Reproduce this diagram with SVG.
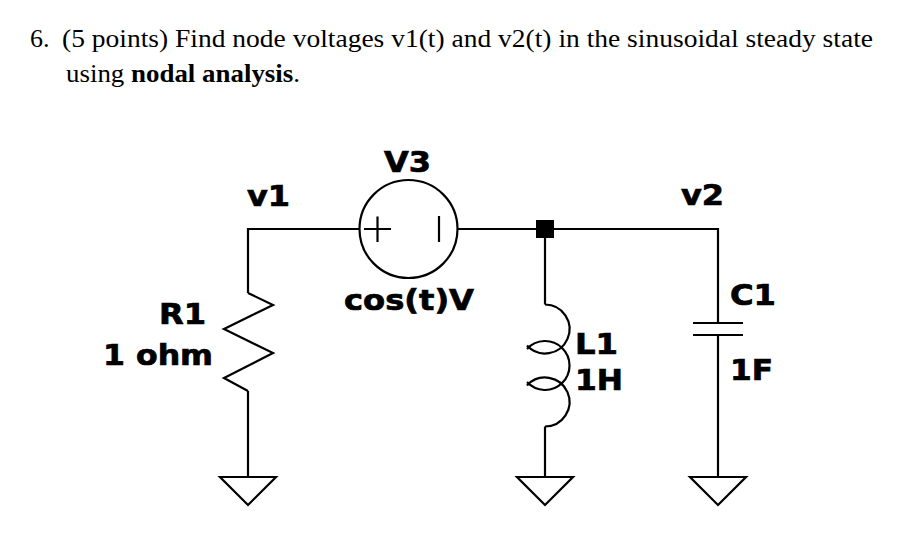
<svg xmlns="http://www.w3.org/2000/svg" width="908" height="534" viewBox="0 0 908 534">
<style>
.w{fill:none;stroke:#000;stroke-width:2.2;stroke-linejoin:miter}
.lbl{font-family:"DejaVu Sans",Verdana,sans-serif;font-weight:bold;font-size:28px;fill:#000;stroke:#000;stroke-width:0.7}
.q{font-family:"Liberation Serif","Times New Roman",serif;font-size:26px;fill:#000}
</style>
<defs>
<path id="gnd" class="w" d="M-28,0 H28 L0,28 Z"/>
</defs>
<rect width="908" height="534" fill="#fff"/>
<g id="question">
<text class="q" x="30" y="47">6.</text>
<text class="q" x="62" y="47" textLength="811" lengthAdjust="spacingAndGlyphs">(5 points) Find node voltages v1(t) and v2(t) in the sinusoidal steady state</text>
<text class="q" x="66" y="82" textLength="234" lengthAdjust="spacingAndGlyphs">using <tspan font-weight="bold">nodal analysis</tspan>.</text>
</g>
<g id="connectors">
<path class="w" d="M359.5,229 H248 V293"/>
<path class="w" d="M457.5,229 H718 V323"/>
<path class="w" d="M545,229 V304.5"/>
<path class="w" d="M248,391 V477"/>
<path class="w" d="M545,426.5 V477"/>
<path class="w" d="M718,335 V477"/>
</g>
<g id="R1">
<path class="w" d="M248,293 L273,305 L224,329 L273,353 L224,378 L248,391"/>
<text class="lbl" x="159" y="324" textLength="47" lengthAdjust="spacingAndGlyphs">R1</text>
<text class="lbl" x="103" y="365" textLength="110" lengthAdjust="spacingAndGlyphs">1 ohm</text>
</g>
<g id="V3">
<circle class="w" cx="408.5" cy="229" r="49"/>
<path class="w" d="M364,229 H391 M377.5,216.5 V242 M439,216 V242"/>
<text class="lbl" x="384" y="172" textLength="47" lengthAdjust="spacingAndGlyphs">V3</text>
<text class="lbl" x="344" y="310" textLength="130" lengthAdjust="spacingAndGlyphs">cos(t)V</text>
</g>
<g id="node-v1"><text class="lbl" x="247" y="206" textLength="43" lengthAdjust="spacingAndGlyphs">v1</text></g>
<g id="node-v2"><text class="lbl" x="681" y="205" textLength="43" lengthAdjust="spacingAndGlyphs">v2</text></g>
<g id="junction"><rect x="536" y="220" width="18" height="18" fill="#000"/></g>
<g id="L1">
<path class="w" d="M545,304.5 A24.5,24.5 0 1 1 527,345.6 M527,348.9 A24.5,24.5 0 1 1 527,382.1 M527,385.4 A24.5,24.5 0 1 1 545,426.5"/>
<text class="lbl" x="575" y="354" textLength="43" lengthAdjust="spacingAndGlyphs">L1</text>
<text class="lbl" x="575" y="390" textLength="48" lengthAdjust="spacingAndGlyphs">1H</text>
</g>
<g id="C1">
<path class="w" d="M693,323 H743 M693,335 H743"/>
<text class="lbl" x="730" y="305" textLength="46" lengthAdjust="spacingAndGlyphs">C1</text>
<text class="lbl" x="730" y="380" textLength="43" lengthAdjust="spacingAndGlyphs">1F</text>
</g>
<g id="grounds">
<use href="#gnd" x="248" y="477"/>
<use href="#gnd" x="545" y="477"/>
<use href="#gnd" x="718" y="477"/>
</g>
</svg>
